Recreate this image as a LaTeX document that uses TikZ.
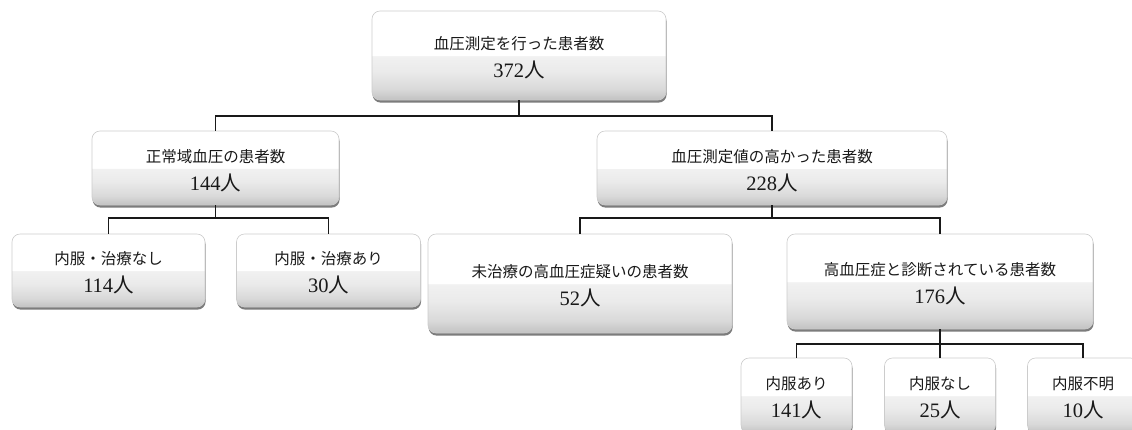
\documentclass[tikz,border=0pt]{standalone}
\usepackage{fontspec}
\setmainfont{Liberation Serif}
\newfontfamily\jp{Noto Sans CJK JP}
\usetikzlibrary{shadows}
\definecolor{shA}{gray}{0.76}
\definecolor{shB}{gray}{0.85}
\definecolor{shC}{gray}{0.92}
\definecolor{shD}{gray}{0.945}
\definecolor{txt}{gray}{0.1}
\pgfdeclareverticalshading{glossy}{100bp}{color(0bp)=(shA); color(25bp)=(shA); color(31bp)=(shB); color(41bp)=(shC); color(49.7bp)=(shD); color(50bp)=(white); color(100bp)=(white)}
\newcommand\boxtxt[2]{{\jp\fontsize{15.5}{18}\selectfont\rule{0pt}{18pt}#1}\\#2{\jp 人}}
\tikzset{
  box/.style={rounded corners=8pt, draw=gray!40, line width=0.6pt, shading=glossy,
    drop shadow={shadow xshift=0.6pt, shadow yshift=-2.6pt, opacity=0.6, fill=black!85},
    align=center, inner sep=0pt, text=txt, font=\fontsize{20.5}{28}\selectfont},
  conn/.style={draw=black!90, line width=1.4pt}
}
\begin{document}
\begin{tikzpicture}[x=1pt,y=-1pt]
\useasboundingbox (0,0) rectangle (1132,429);
\clip (0,0) rectangle (1132,429);
\fill[white] (0,0) rectangle (1132,429);
\node[box, minimum width=294, minimum height=89] (top) at (519,55.5) {\boxtxt{血圧測定を行った患者数}{372}};
\node[box, minimum width=247, minimum height=74] (n1) at (215.5,168) {\boxtxt{正常域血圧の患者数}{144}};
\node[box, minimum width=350, minimum height=74] (n2) at (772,168) {\boxtxt{血圧測定値の高かった患者数}{228}};
\node[box, minimum width=193, minimum height=73] (a1) at (108.5,270.5) {\boxtxt{内服・治療なし}{114}};
\node[box, minimum width=184, minimum height=73] (a2) at (328.5,270.5) {\boxtxt{内服・治療あり}{30}};
\node[box, minimum width=304, minimum height=99] (b1) at (580,283.5) {\boxtxt{未治療の高血圧症疑いの患者数}{52}};
\node[box, minimum width=306, minimum height=95] (b2) at (940,281.5) {\boxtxt{高血圧症と診断されている患者数}{176}};
\node[box, minimum width=111, minimum height=75] (c1) at (796.5,395.5) {\boxtxt{内服あり}{141}};
\node[box, minimum width=111, minimum height=75] (c2) at (940,395.5) {\boxtxt{内服なし}{25}};
\node[box, minimum width=111, minimum height=75] (c3) at (1083,395.5) {\boxtxt{内服不明}{10}};
\coordinate (j1) at (519,116);
\coordinate (j2) at (215.5,218);
\coordinate (j3) at (772,218);
\coordinate (j4) at (940,344);
\draw[conn] (top.south) -- (j1);
\draw[conn] (n1.north) |- (j1) -| (n2.north);
\draw[conn] (n1.south) -- (j2);
\draw[conn] (a1.north) |- (j2) -| (a2.north);
\draw[conn] (n2.south) -- (j3);
\draw[conn] (b1.north) |- (j3) -| (b2.north);
\draw[conn] (b2.south) -- (c2.north);
\draw[conn] (c1.north) |- (j4) -| (c3.north);
\end{tikzpicture}
\end{document}
